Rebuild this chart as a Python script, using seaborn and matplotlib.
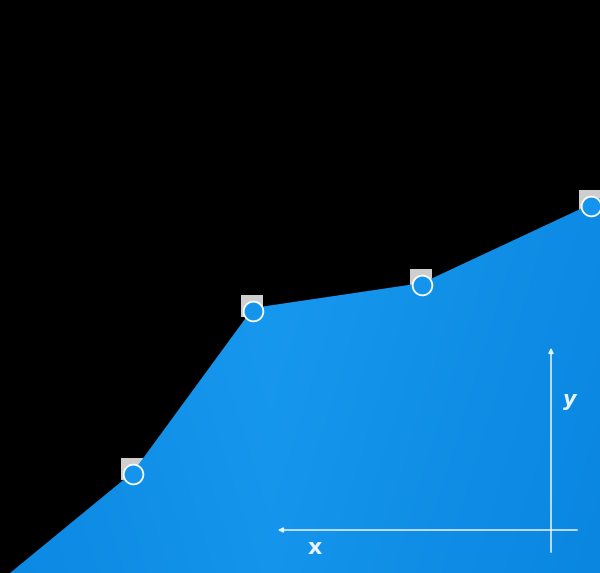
import matplotlib
matplotlib.use("Agg")
import matplotlib.pyplot as plt
import numpy as np
import pandas as pd
import seaborn as sns

pos = [10, 133, 253, 422, 591, 600]
level = [0, 101, 265, 290, 369, 375]
point_pos = [133, 253, 422, 591]
point_level = [99, 262, 288, 367]

BLUE = "#1494ec"
LIGHT = "#e9f3fc"

df = pd.DataFrame({"pos": pos, "level": level})
pts = pd.DataFrame({"pos": point_pos, "level": point_level})

sns.set_style("dark")
fig = plt.figure(figsize=(6, 5.73), dpi=100, facecolor="black")
ax = fig.add_axes([0, 0, 1, 1])
ax.set_facecolor("black")
ax.set_xlim(0, 600)
ax.set_ylim(0, 573)

# the faint squares sitting behind the markers
sns.scatterplot(data=pts.assign(pos=pts.pos - 1, level=pts.level + 5), x="pos", y="level",
                marker="s", s=250, color="#e6e6e6", alpha=0.9, edgecolor="none", ax=ax,
                zorder=1, legend=False)

area = ax.fill_between(df.pos, df.level, 0, color=BLUE, lw=0, zorder=2)
# soft gradient inside the area
gx = np.linspace(0, 1, 256)
gy = np.linspace(0, 1, 256)
grad = 1 - np.abs(gx[None, :] - 0.45) * 1.2 - (1 - gy[:, None]) * 0.35
cmap = matplotlib.colors.LinearSegmentedColormap.from_list("b", ["#0a86e0", "#1a9cf2"])
img = ax.imshow(grad, extent=[0, 600, 0, 573], cmap=cmap, aspect="auto", zorder=2,
                origin="lower")
img.set_clip_path(area.get_paths()[0], transform=ax.transData)

sns.scatterplot(data=pts, x="pos", y="level", s=200, color=BLUE, edgecolor="white",
                linewidth=1.3, ax=ax, zorder=3, legend=False)

# little axis sketch
ax.annotate("", xy=(275, 43), xytext=(580, 43), zorder=4,
            arrowprops=dict(arrowstyle="-|>", color=LIGHT, lw=1.1, mutation_scale=7))
ax.annotate("", xy=(551, 228), xytext=(551, 18), zorder=4,
            arrowprops=dict(arrowstyle="-|>", color=LIGHT, lw=1.1, mutation_scale=7))
ax.text(315, 25, "x", color=LIGHT, fontsize=16, ha="center", va="center", zorder=4,
        weight="bold", family="DejaVu Sans Condensed")
ax.text(570, 173, "y", color=LIGHT, fontsize=15, style="italic", ha="center",
        va="center", zorder=4, weight="bold", family="DejaVu Sans Condensed")

ax.set_xlabel("")
ax.set_ylabel("")
ax.set_xticks([])
ax.set_yticks([])
ax.set_frame_on(False)
ax.grid(False)

fig.savefig("out.png", dpi=100, facecolor="black")
